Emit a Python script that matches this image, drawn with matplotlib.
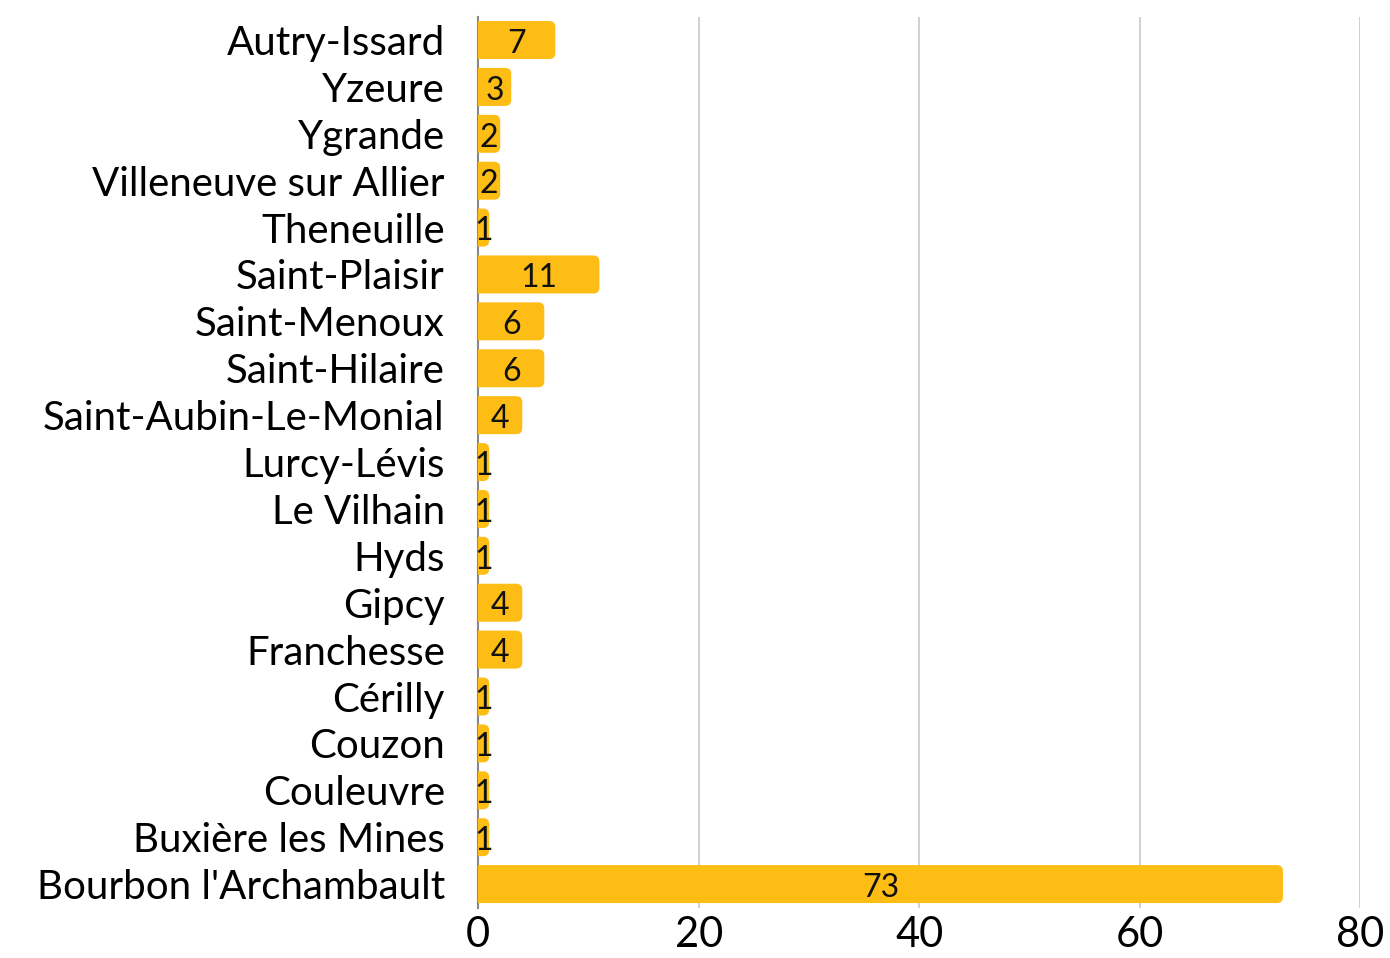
import matplotlib
matplotlib.use("Agg")
import matplotlib.pyplot as plt
from matplotlib.patches import FancyBboxPatch

categories = ["Autry-Issard", "Yzeure", "Ygrande", "Villeneuve sur Allier", "Theneuille",
              "Saint-Plaisir", "Saint-Menoux", "Saint-Hilaire", "Saint-Aubin-Le-Monial",
              "Lurcy-Lévis", "Le Vilhain", "Hyds", "Gipcy", "Franchesse", "Cérilly",
              "Couzon", "Couleuvre", "Buxière les Mines", "Bourbon l'Archambault"]
values = [7, 3, 2, 2, 1, 11, 6, 6, 4, 1, 1, 1, 4, 4, 1, 1, 1, 1, 73]
xticks = [0, 20, 40, 60, 80]

bar_color = "#FDBD14"

fig = plt.figure(figsize=(13.9, 9.58), dpi=100)
ax = fig.add_axes([0.344, 0.0527, 0.6345, 0.930])

ypos = list(range(len(categories)))
bars = ax.barh(ypos, values, height=0.81, color=bar_color, zorder=3)
ax.set_ylim(len(categories) - 0.5, -0.5)
ax.set_xlim(0, 80)
fig.canvas.draw()

# rounded corners: replace bars with rounded boxes of identical geometry
xpp = 80 / (0.6345 * 1390)
ypp = len(categories) / (0.930 * 958)
r_px = 6
for b in bars:
    x0, y0 = b.get_x(), b.get_y()
    w, h = b.get_width(), b.get_height()
    b.set_visible(False)
    r = r_px * xpp
    p = FancyBboxPatch((x0 - 2 * r, y0), w + 2 * r, h,
                       boxstyle=f"round,pad=0,rounding_size={r}",
                       mutation_aspect=ypp / xpp,
                       facecolor=bar_color, edgecolor="none", zorder=3,
                       clip_on=True)
    ax.add_patch(p)
    p.set_clip_path(ax.patch)

for y, v in zip(ypos, values):
    ax.text(v / 2, y + 0.08, str(v), ha="center", va="center",
            fontsize=23, color="#111111", family="Lato", zorder=4)

ax.set_yticks(ypos)
ax.set_yticklabels(categories, fontsize=29, family="Lato")
ax.set_xticks(xticks)
ax.set_xticklabels([str(t) for t in xticks], fontsize=30, family="Lato")
ax.tick_params(axis="both", length=0)
ax.tick_params(axis="x", pad=6)
ax.tick_params(axis="y", pad=24)
ax.grid(axis="x", color="#c8c8c8", linewidth=1.2, zorder=0)
for s in ["top", "right", "bottom"]:
    ax.spines[s].set_visible(False)
ax.spines["left"].set_color("#888888")
ax.spines["left"].set_linewidth(1.5)
ax.spines["left"].set_zorder(2)

fig.savefig("out.png", dpi=100, facecolor="white")
